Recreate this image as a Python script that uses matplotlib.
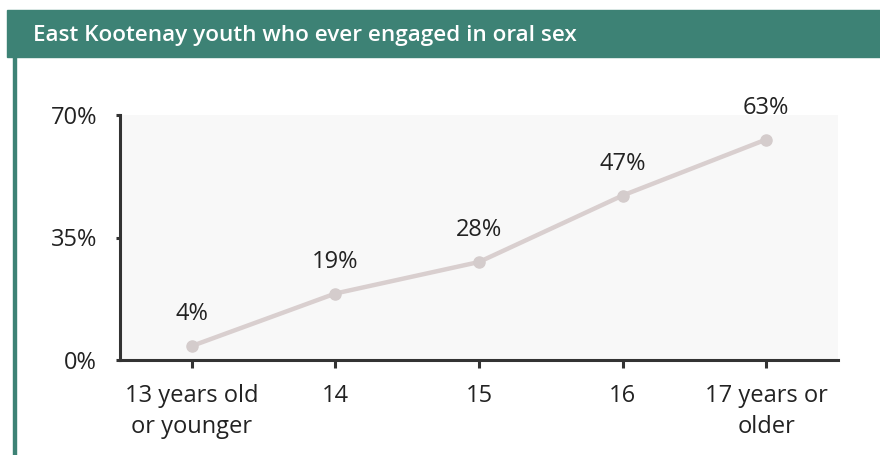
import matplotlib.pyplot as plt
from matplotlib.patches import Rectangle

# data
categories = ['13 years old\nor younger', '14', '15', '16', '17 years or\nolder']
values = [4, 19, 28, 47, 63]
labels = ['4%', '19%', '28%', '47%', '63%']
yticks = [0, 35, 70]

teal = '#3d8275'
plt.rcParams['font.family'] = ['Open Sans', 'DejaVu Sans']

fig = plt.figure(figsize=(8.8, 4.55), dpi=100)
W, H = 880, 455

# title band and left border
fig.patches.append(Rectangle((7 / W, 1 - 57 / H), 1 - 7 / W, 47 / H,
                             transform=fig.transFigure, color=teal, zorder=0))
fig.patches.append(Rectangle((13 / W, 0), 3 / W, 1 - 57 / H,
                             transform=fig.transFigure, color=teal, zorder=0))
fig.text(33 / W, 1 - 35 / H, 'East Kootenay youth who ever engaged in oral sex',
         color='white', fontsize=16.2, fontweight='semibold', va='center', ha='left')

# axes: left 120, right 838, top 115, bottom 360
ax = fig.add_axes([120 / W, 1 - 360 / H, 718 / W, 245 / H])
ax.set_facecolor('#f8f8f8')
x = list(range(len(values)))
ax.plot(x, values, color='#d9cfcf', lw=3.2, marker='o', ms=8, mfc='#d4cccc', mec='#d4cccc', zorder=3)
for xi, v, lab in zip(x, values, labels):
    ax.text(xi, v + 9, lab, ha='center', va='center', fontsize=17, color='#222222')

ax.set_xlim(-0.5, 4.5)
ax.set_ylim(0, 70)
ax.set_yticks(yticks)
ax.set_yticklabels([f'{t}%' for t in yticks], fontsize=17, color='#222222')
ax.set_xticks(x)
ax.set_xticklabels(categories, fontsize=17, color='#222222', linespacing=1.4)
for s in ['top', 'right']:
    ax.spines[s].set_visible(False)
for s in ['left', 'bottom']:
    ax.spines[s].set_color('#333333')
    ax.spines[s].set_linewidth(2.2)
ax.tick_params(axis='y', length=3, width=2.2, color='#333333', pad=13.5)
ax.tick_params(axis='x', length=6, width=2.2, color='#333333', pad=11)

fig.savefig('out.png', dpi=100)
